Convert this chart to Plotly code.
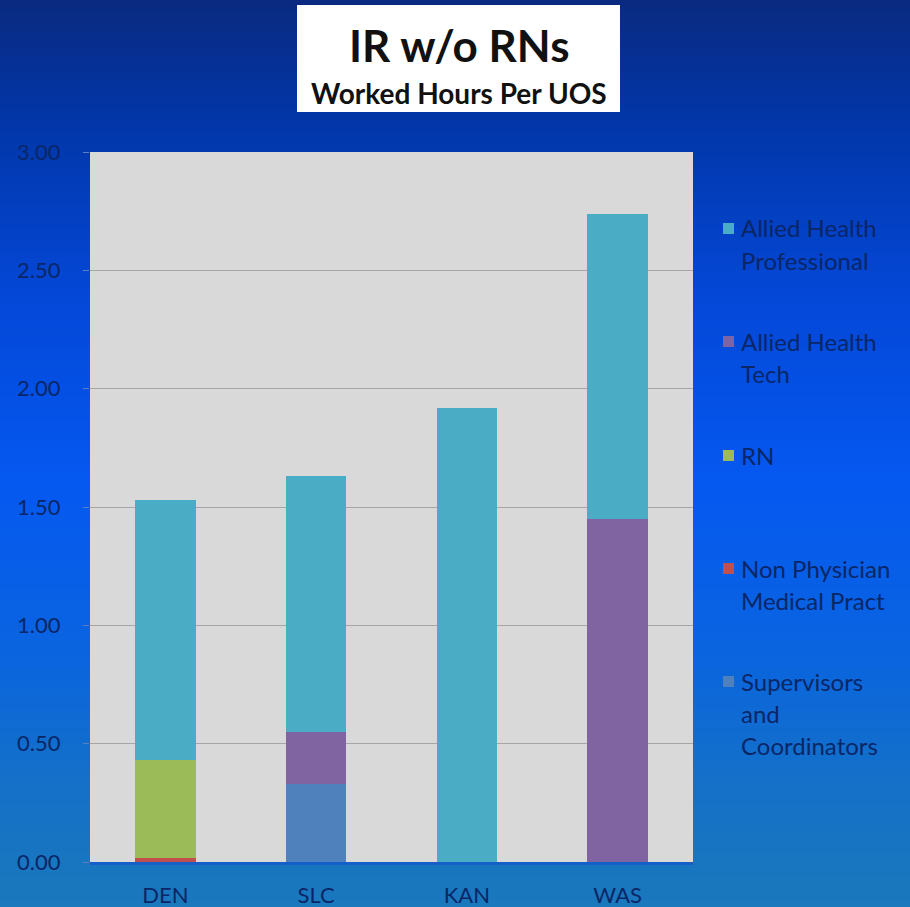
import plotly.graph_objects as go

# ---- data ----
sites = ["DEN", "SLC", "KAN", "WAS"]
supervisors = [0.00, 0.33, 0.00, 0.00]
non_physician = [0.015, 0.00, 0.00, 0.00]
rn = [0.415, 0.00, 0.00, 0.00]
allied_tech = [0.00, 0.22, 0.00, 1.45]
allied_prof = [1.10, 1.08, 1.92, 1.29]

series_names = ["Supervisors<br>and<br>Coordinators", "Non Physician<br>Medical Pract",
                "RN", "Allied Health<br>Tech", "Allied Health<br>Professional"]
series_values = [supervisors, non_physician, rn, allied_tech, allied_prof]
series_colors = ["#4f81bd", "#c0504d", "#9bbb59", "#8064a2", "#4bacc6"]

y_ticks = [0, 0.5, 1.0, 1.5, 2.0, 2.5, 3.0]

W, H = 910, 907
L, R, T, B = 90, 217, 152, 45
pw, ph = W - L - R, H - T - B
TXT = "#0a2666"

def px_to_paper_x(px):
    return (px - L) / pw

def px_to_paper_y(py):
    return (H - B - py) / ph

fig = go.Figure()
for name, vals, col in zip(series_names, series_values, series_colors):
    fig.add_trace(go.Bar(x=sites, y=vals, name=name, marker=dict(color=col, line=dict(width=0)),
                         showlegend=False))

shapes = []
# background gradient stripes
stops = [(0, (10, 42, 128)), (120, (2, 54, 168)), (300, (4, 72, 216)), (480, (5, 88, 240)),
         (650, (10, 100, 224)), (780, (20, 112, 200)), (907, (26, 120, 188))]

def col_at(y):
    for (y0, c0), (y1, c1) in zip(stops[:-1], stops[1:]):
        if y0 <= y <= y1:
            t = (y - y0) / (y1 - y0)
            return "rgb(%d,%d,%d)" % tuple(round(a + (b - a) * t) for a, b in zip(c0, c1))
    return "rgb(26,120,188)"

step = 6
for y in range(-step, H + step, step):
    shapes.append(dict(type="rect", xref="paper", yref="paper", layer="below",
                       x0=px_to_paper_x(-5), x1=px_to_paper_x(W + 5),
                       y0=px_to_paper_y(y + step + 1), y1=px_to_paper_y(y),
                       fillcolor=col_at(max(0, y + step / 2)), line=dict(width=0)))
# plot area background
shapes.append(dict(type="rect", xref="x domain", yref="y domain", layer="below",
                   x0=0, x1=1, y0=0, y1=1, fillcolor="#d9d9d9", line=dict(width=0)))
# title box
shapes.append(dict(type="rect", xref="paper", yref="paper", layer="above",
                   x0=px_to_paper_x(297), x1=px_to_paper_x(620),
                   y0=px_to_paper_y(112), y1=px_to_paper_y(5),
                   fillcolor="white", line=dict(width=0)))

annotations = [
    dict(text="<b>IR w/o RNs</b>", xref="paper", yref="paper", x=px_to_paper_x(459), y=px_to_paper_y(45),
         showarrow=False, font=dict(family="Lato", size=44, color="#111111"), xanchor="center", yanchor="middle"),
    dict(text="<b>Worked Hours Per UOS</b>", xref="paper", yref="paper", x=px_to_paper_x(459), y=px_to_paper_y(93),
         showarrow=False, font=dict(family="Lato", size=28, color="#111111"), xanchor="center", yanchor="middle"),
]

# custom legend (top entry first)
legend_rows = [(228, 4), (341, 3), (455, 2), (568, 1), (681, 0)]
for ytop, idx in legend_rows:
    lines = series_names[idx].split("<br>")
    shapes.append(dict(type="rect", xref="paper", yref="paper", layer="above",
                       x0=px_to_paper_x(723), x1=px_to_paper_x(734),
                       y0=px_to_paper_y(ytop + 6), y1=px_to_paper_y(ytop - 5),
                       fillcolor=series_colors[idx], line=dict(width=0)))
    for k, ln in enumerate(lines):
        annotations.append(dict(text=ln, xref="paper", yref="paper",
                                x=px_to_paper_x(739), y=px_to_paper_y(ytop + 32 * k),
                                showarrow=False, xanchor="left", yanchor="middle",
                                font=dict(family="Lato", size=24, color=TXT)))

fig.update_layout(
    width=W, height=H,
    margin=dict(l=L, r=R, t=T, b=B, autoexpand=False),
    barmode="stack", bargap=0.6,
    paper_bgcolor="#0550e0", plot_bgcolor="rgba(0,0,0,0)",
    shapes=shapes, annotations=annotations,
    font=dict(family="Lato", color=TXT),
    xaxis=dict(showgrid=False, ticks="", tickfont=dict(size=22, color=TXT),
               ticklabelstandoff=12, automargin=False,
               showline=True, linecolor="#1560c8", linewidth=3, fixedrange=True),
    yaxis=dict(range=[0, 3.0], tickvals=y_ticks, tickformat=".2f",
               tickfont=dict(size=22, color=TXT), ticklabelstandoff=18, automargin=False,
               gridcolor="#a6a6a6", gridwidth=1, zeroline=False, ticks="outside",
               ticklen=6, tickcolor="#5d7fc0", showline=False, fixedrange=True),
)

fig.write_html("out.html")
